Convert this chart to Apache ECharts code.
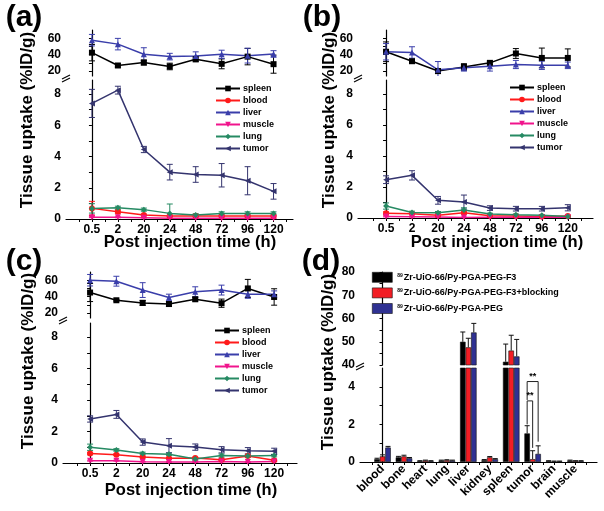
<!DOCTYPE html>
<html><head><meta charset="utf-8">
<script src="https://cdn.jsdelivr.net/npm/echarts@6/dist/echarts.min.js"></script>
<style>html,body{margin:0;padding:0;background:#fff}#c{width:604px;height:511px}</style>
</head><body><div id="c"></div><script>
// ---------- DATA ----------
const timeLabels = ['0.5','2','20','24','48','72','96','120'];
const seriesNames = ['spleen','blood','liver','muscle','lung','tumor'];

// panel (a)
const aSpleen = [42.4,26.8,30.4,25.6,34.4,28.8,37.6,28.4];
const aSpleenErr = [10,2,3,4,3,6,10,11];
const aLiver = [57.6,52.8,40.4,37.6,38.4,40.4,38.8,40.8];
const aLiverErr = [7,7,8,4,5,5,9,4];
const aBlood = [0.68,0.47,0.26,0.2,0.2,0.2,0.2,0.2];
const aBloodErr = [0.45,0.1,0.05,0.05,0.05,0.05,0.05,0.05];
const aMuscle = [0.12,0.11,0.08,0.05,0.05,0.05,0.05,0.05];
const aMuscleErr = [0.03,0.03,0.02,0.02,0.02,0.02,0.02,0.02];
const aLung = [0.68,0.72,0.6,0.36,0.26,0.36,0.36,0.36];
const aLungErr = [0.3,0.1,0.1,0.6,0.08,0.1,0.1,0.1];
const aTumor = [7.4,8.25,4.45,3.0,2.85,2.8,2.45,1.77];
const aTumorErr = [0.9,0.25,0.2,0.5,0.5,0.75,0.9,0.5];

// panel (b)
const bSpleen = [43.5,32,20,25,30,41.4,36,36];
const bSpleenErr = [12,2,3,4,2,6,12,11];
const bLiver = [43.5,42.6,21.6,24,26,28,27,27];
const bLiverErr = [10,7,10,4,6,5,5,4];
const bBlood = [0.3,0.28,0.17,0.34,0.15,0.13,0.09,0.13];
const bBloodErr = [0.1,0.05,0.05,0.1,0.05,0.05,0.05,0.05];
const bMuscle = [0.1,0.08,0.06,0.04,0.05,0.05,0.05,0.05];
const bMuscleErr = [0.03,0.02,0.02,0.02,0.02,0.02,0.02,0.02];
const bLung = [0.77,0.36,0.34,0.51,0.26,0.21,0.17,0.1];
const bLungErr = [0.2,0.08,0.08,0.15,0.05,0.05,0.05,0.05];
const bTumor = [2.47,2.75,1.14,1.03,0.64,0.6,0.6,0.66];
const bTumorErr = [0.25,0.3,0.25,0.45,0.15,0.15,0.15,0.2];

// panel (c)
const cSpleen = [45,35.6,32.4,31,36.8,32,50,39.6];
const cSpleenErr = [11,1,3,3,2,5,11,10];
const cLiver = [60,58.8,48,39,46,48,43,43];
const cLiverErr = [7,6,9,4,6,6,5,4];
const cBlood = [0.6,0.53,0.38,0.3,0.32,0.2,0.44,0.17];
const cBloodErr = [0.08,0.05,0.05,0.05,0.05,0.05,0.05,0.05];
const cMuscle = [0.15,0.15,0.08,0.06,0.06,0.1,0.06,0.1];
const cMuscleErr = [0.03,0.03,0.02,0.02,0.02,0.02,0.02,0.02];
const cLung = [1.0,0.83,0.61,0.55,0.25,0.47,0.44,0.47];
const cLungErr = [0.2,0.08,0.08,0.08,0.08,0.1,0.08,0.08];
const cTumor = [2.8,3.09,1.33,1.1,1.01,0.84,0.78,0.74];
const cTumorErr = [0.2,0.25,0.2,0.45,0.2,0.2,0.2,0.2];

// panel (d)
const organs = ['blood','bone','heart','lung','liver','kidney','spleen','tumor','brain','muscle'];
const barNames = ['Zr-UiO-66/Py-PGA-PEG-F3','Zr-UiO-66/Py-PGA-PEG-F3+blocking','Zr-UiO-66/Py-PGA-PEG'];
const dF3 = [0.15,0.25,0.05,0.08,50,0.1,41.4,1.52,0.05,0.08];
const dF3Err = [0.05,0.05,0.02,0.02,4.2,0.03,7.6,0.41,0.02,0.02];
const dBlock = [0.3,0.3,0.08,0.1,47.6,0.25,46.2,0.15,0.03,0.05];
const dBlockErr = [0.08,0.06,0.02,0.02,3.9,0.04,6.6,0.45,0.02,0.02];
const dPeg = [0.77,0.2,0.05,0.08,54,0.15,43.7,0.43,0.03,0.05];
const dPegErr = [0.06,0.04,0.02,0.02,3.9,0.03,7.3,0.43,0.02,0.02];
// significance brackets on tumor: [organ index, left bar, right bar, top, left leg end, right leg end]
const sigBrackets = [[7,0,2,4.28,3.3,1.08],[7,0,1,3.25,2.0,0.75]];
const sigText = '**';

// ---------- STYLE ----------
const FONT = 'Liberation Sans, Arial, sans-serif';
const colors = {spleen:'#000000', blood:'#ff1a1a', liver:'#3a3eaa', muscle:'#f0148c', lung:'#268a63', tumor:'#34346e'};
const symbols = {spleen:['rect',0], blood:['circle',0], liver:['triangle',0], muscle:['triangle',180], lung:['diamond',0], tumor:['triangle',90]};
const barColors = ['#000000','#f21d24','#2f3192'];
const upperNames = ['spleen','liver'];

const grids=[], xAxes=[], yAxes=[], series=[], legends=[];

function axisBase(){
  return {
    axisLine:{show:true,lineStyle:{color:'#000',width:1.2}},
    splitLine:{show:false}
  };
}
function lbl(extra){return Object.assign({color:'#000',fontFamily:FONT,fontWeight:'bold',fontSize:12},extra||{});}
function tick(vals,len){return {show:true,length:len||3,lineStyle:{color:'#000',width:1},customValues:vals};}

function errSeries(gi, vals, errs, color, upOnly, pxOffset, capW){
  return {
    type:'custom', xAxisIndex:gi, yAxisIndex:gi, silent:true, z:3, clip:true,
    data: vals.map((v,i)=>[i, v, errs[i]]),
    renderItem:function(params, api){
      const x=api.value(0), y=api.value(1), e=api.value(2);
      if (y==null || isNaN(y)) return null;
      const t=api.coord([x,y+e]); const b=api.coord([x, upOnly? y : y-e]);
      const off=pxOffset||0, w=capW||3;
      const X=t[0]+off;
      const st={stroke:color,lineWidth:1};
      const ch=[
        {type:'line',shape:{x1:X,y1:t[1],x2:X,y2:b[1]},style:st},
        {type:'line',shape:{x1:X-w,y1:t[1],x2:X+w,y2:t[1]},style:st}
      ];
      if(!upOnly) ch.push({type:'line',shape:{x1:X-w,y1:b[1],x2:X+w,y2:b[1]},style:st});
      return {type:'group',children:ch};
    }
  };
}

function linePanel(P){
  const gU=grids.length; grids.push({left:P.left,top:P.upTop,width:P.width,height:P.upH});
  const gL=grids.length; grids.push({left:P.left,top:P.lowTop,width:P.width,height:P.lowH});
  const idx=timeLabels.map((_,i)=>i);
  const half=[]; for(let v=-0.5; v<=7.5; v+=0.5) half.push(v);
  xAxes.push({gridIndex:gU,type:'value',min:P.xmin,max:P.xmax,show:false});
  xAxes.push(Object.assign(axisBase(),{gridIndex:gL,type:'value',min:P.xmin,max:P.xmax,
    axisLabel:lbl({customValues:idx,formatter:v=>timeLabels[Math.round(v)],margin:5}),
    axisTick:tick(half,3)}));
  yAxes.push(Object.assign(axisBase(),{gridIndex:gU,type:'value',min:14,max:70,
    axisLabel:lbl({customValues:[20,40,60],margin:5}),axisTick:tick([20,30,40,50,60],3)}));
  yAxes.push(Object.assign(axisBase(),{gridIndex:gL,type:'value',min:0,max:8.9,
    axisLabel:lbl({customValues:[0,2,4,6,8],margin:5}),axisTick:tick([0,1,2,3,4,5,6,7,8],3)}));
  seriesNames.forEach(n=>{
    const gi = upperNames.includes(n)? gU : gL;
    series.push({type:'line',name:n,xAxisIndex:gi,yAxisIndex:gi,z:4,
      data:P.vals[n].map((v,i)=>[i,v]),
      symbol:symbols[n][0],symbolRotate:symbols[n][1],symbolSize:6,
      lineStyle:{color:colors[n],width:1.5},itemStyle:{color:colors[n]}});
    series.push(errSeries(gi,P.vals[n],P.errs[n],colors[n],false,0,3));
  });
  legends.push({left:P.legLeft,top:P.legTop,orient:'vertical',data:seriesNames,selectedMode:false,
    itemWidth:24,itemHeight:7,itemGap:3,padding:0,
    textStyle:{fontFamily:FONT,fontWeight:'bold',fontSize:9,color:'#000',padding:[0,0,0,-2]}});
}

linePanel({left:66,width:227,upTop:30,upH:46,lowTop:80,lowH:139,xmin:-1,xmax:7.75,legLeft:215,legTop:84,
  vals:{spleen:aSpleen,blood:aBlood,liver:aLiver,muscle:aMuscle,lung:aLung,tumor:aTumor},
  errs:{spleen:aSpleenErr,blood:aBloodErr,liver:aLiverErr,muscle:aMuscleErr,lung:aLungErr,tumor:aTumorErr}});
linePanel({left:358,width:235,upTop:30,upH:46,lowTop:80,lowH:138,xmin:-1.08,xmax:7.97,legLeft:509,legTop:83,
  vals:{spleen:bSpleen,blood:bBlood,liver:bLiver,muscle:bMuscle,lung:bLung,tumor:bTumor},
  errs:{spleen:bSpleenErr,blood:bBloodErr,liver:bLiverErr,muscle:bMuscleErr,lung:bLungErr,tumor:bTumorErr}});
linePanel({left:63,width:234,upTop:272,upH:46,lowTop:323,lowH:140,xmin:-1.03,xmax:7.87,legLeft:214,legTop:326,
  vals:{spleen:cSpleen,blood:cBlood,liver:cLiver,muscle:cMuscle,lung:cLung,tumor:cTumor},
  errs:{spleen:cSpleenErr,blood:cBloodErr,liver:cLiverErr,muscle:cMuscleErr,lung:cLungErr,tumor:cTumorErr}});

// ---------- panel (d) bars ----------
(function(){
  const gU=grids.length; grids.push({left:360,top:272,width:237,height:93});
  const gL=grids.length; grids.push({left:360,top:368,width:237,height:94});
  const idx=organs.map((_,i)=>i);
  const tks=[]; for(let v=-0.5; v<=9.5; v+=0.5) tks.push(v);
  const xmin=-1.05, xmax=10;
  xAxes.push({gridIndex:gU,type:'value',min:xmin,max:xmax,show:false});
  xAxes.push(Object.assign(axisBase(),{gridIndex:gL,type:'value',min:xmin,max:xmax,
    axisLabel:lbl({customValues:idx,formatter:v=>organs[Math.round(v)],rotate:45,margin:5}),
    axisTick:tick(tks,3)}));
  yAxes.push(Object.assign(axisBase(),{gridIndex:gU,type:'value',min:40,max:80,
    axisLabel:lbl({customValues:[40,50,60,70,80],margin:5}),axisTick:tick([40,45,50,55,60,65,70,75,80],3)}));
  yAxes.push(Object.assign(axisBase(),{gridIndex:gL,type:'value',min:0,max:5,
    axisLabel:lbl({customValues:[0,2,4],margin:5}),axisTick:tick([0,1,2,3,4],3)}));
  const BW=5.5;
  const sets=[[dF3,dF3Err],[dBlock,dBlockErr],[dPeg,dPegErr]];
  sets.forEach((s,k)=>{
    [gU,gL].forEach(gi=>{
      const up = gi===gU;
      series.push({type:'bar',name:barNames[k],xAxisIndex:gi,yAxisIndex:gi,barWidth:BW,barGap:'0%',clip:true,z:2,
        data:s[0].map((v,i)=>[i, up ? (v>40? v : null) : v]),
        itemStyle:{color:barColors[k],borderColor:'#111',borderWidth:0.6}});
      series.push(errSeries(gi, s[0].map(v=> up ? (v>40? v : null) : (v>5? null : v)), s[1], '#111', true, (k-1)*BW, 2.5));
    });
  });
  // significance brackets
  series.push({type:'custom',xAxisIndex:gL,yAxisIndex:gL,silent:true,z:5,clip:false,
    data:sigBrackets,
    renderItem:function(params,api){
      const x=api.value(0), l=api.value(1), r=api.value(2);
      const top=api.coord([x,api.value(3)]), lb=api.coord([x,api.value(4)]), rb=api.coord([x,api.value(5)]);
      const xl=top[0]+(l-1)*BW, xr=top[0]+(r-1)*BW;
      const st={stroke:'#222',lineWidth:1,fill:null};
      return {type:'group',children:[
        {type:'polyline',shape:{points:[[xl,lb[1]],[xl,top[1]],[xr,top[1]],[xr,rb[1]]]},style:st},
        {type:'text',style:{text:sigText,x:(xl+xr)/2,y:top[1]-1,textAlign:'center',textVerticalAlign:'bottom',
          font:'bold 9px '+FONT,fill:'#000'}}
      ]};
    }});
  legends.push({left:372,top:272,orient:'vertical',data:barNames,selectedMode:false,icon:'rect',
    itemWidth:20,itemHeight:10,itemGap:5,padding:0,
    itemStyle:{borderColor:'#111',borderWidth:0.6},
    formatter:n=>'{s|89}{t|'+n+'}',
    textStyle:{fontFamily:FONT,fontWeight:'bold',fontSize:9,color:'#000',
      rich:{s:{fontSize:5,fontWeight:'bold',fontFamily:FONT,verticalAlign:'top',padding:[0,1,3,0]},
            t:{fontSize:9,fontWeight:'bold',fontFamily:FONT}}}});
})();

// ---------- decorations ----------
function txt(t,x,y,size,rot){
  return {type:'text',x:x,y:y,rotation:rot||0,silent:true,
    style:{text:t,x:0,y:0,textAlign:'center',textVerticalAlign:'middle',font:'bold '+size+'px '+FONT,fill:'#000'}};
}
function brk(x,y){
  return {type:'group',x:x,y:y,silent:true,children:[
    {type:'line',shape:{x1:-4,y1:1,x2:4,y2:-3},style:{stroke:'#000',lineWidth:1.2}},
    {type:'line',shape:{x1:-4,y1:4,x2:4,y2:0},style:{stroke:'#000',lineWidth:1.2}}
  ]};
}
const graphics=[
  txt('(a)',24,18,30), txt('(b)',322,18,30), txt('(c)',24,262,30), txt('(d)',321,262,30),
  txt('Tissue uptake (%ID/g)',27,120,17,Math.PI/2),
  txt('Tissue uptake (%ID/g)',329,120,17,Math.PI/2),
  txt('Tissue uptake (%ID/g)',28,361,17,Math.PI/2),
  txt('Tissue uptake (%ID/g)',328,362,17,Math.PI/2),
  txt('Post injection time (h)',190,242,16.5),
  txt('Post injection time (h)',497,242,16.5),
  txt('Post injection time (h)',191,490,16.5),
  brk(66,78), brk(358,78), brk(63,320), brk(360,366)
];

const chart=echarts.init(document.getElementById('c'),null,{renderer:'canvas'});
chart.setOption({
  animation:false,
  backgroundColor:'#fff',
  textStyle:{fontFamily:FONT},
  grid:grids, xAxis:xAxes, yAxis:yAxes, series:series, legend:legends, graphic:graphics
});
</script></body></html>
